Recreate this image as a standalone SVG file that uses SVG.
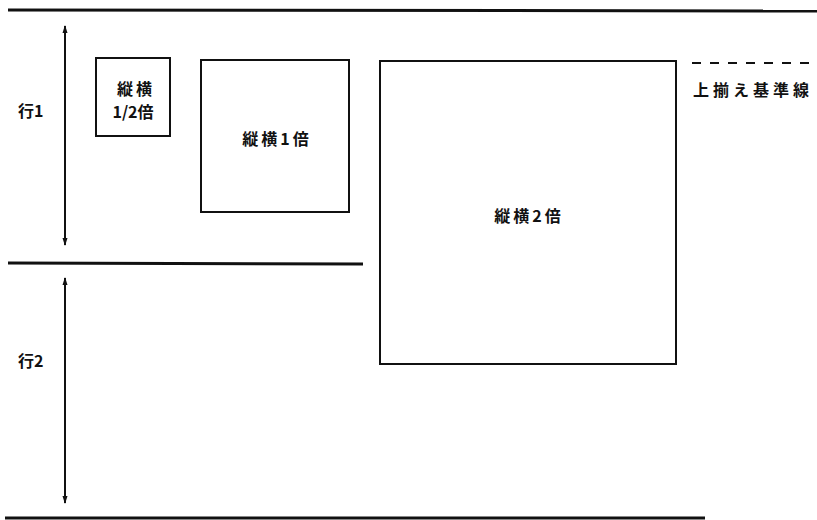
<svg xmlns="http://www.w3.org/2000/svg" width="817" height="520" viewBox="0 0 817 520">
<style>
.t{font-family:"Noto Sans CJK JP","Liberation Sans",sans-serif;font-weight:bold;font-size:16px;fill:#111}
.w{letter-spacing:3px}
.box{fill:none;stroke:#111;stroke-width:2}
.rule{stroke:#111;stroke-width:3}
.arr{stroke:#111;stroke-width:2;fill:none}
</style>
<defs>
<marker id="ah" markerWidth="8" markerHeight="10" refX="7" refY="4" orient="auto-start-reverse" markerUnits="userSpaceOnUse" viewBox="0 0 8 8">
<path d="M0,1.5 L8,4 L0,6.5 z" fill="#111"/>
</marker>
</defs>
<rect width="817" height="520" fill="#fff"/>
<g id="rules">
<line class="rule" x1="8" y1="10" x2="817" y2="11"/>
<line class="rule" x1="8" y1="263" x2="363" y2="264"/>
<line class="rule" x1="5" y1="518" x2="705" y2="518"/>
<line x1="692" y1="63" x2="812" y2="63" stroke="#111" stroke-width="2" stroke-dasharray="9,9"/>
</g>
<g id="connectors">
<line class="arr" x1="65" y1="26" x2="65" y2="245" marker-start="url(#ah)" marker-end="url(#ah)"/>
<line class="arr" x1="65" y1="278" x2="65" y2="503" marker-start="url(#ah)" marker-end="url(#ah)"/>
</g>
<g id="row1-label"><text class="t" x="18" y="117">行1</text></g>
<g id="row2-label"><text class="t" x="18" y="367">行2</text></g>
<g id="box-half">
<rect class="box" x="96" y="58" width="74" height="78"/>
<text class="t w" x="136" y="95" text-anchor="middle">縦横</text>
<text class="t" x="133" y="118" text-anchor="middle">1/2倍</text>
</g>
<g id="box-1x">
<rect class="box" x="201" y="60" width="148" height="152"/>
<text class="t w" x="277" y="145" text-anchor="middle">縦横1倍</text>
</g>
<g id="box-2x">
<rect class="box" x="380" y="61" width="296" height="303"/>
<text class="t w" x="529" y="222" text-anchor="middle">縦横2倍</text>
</g>
<g id="baseline-label">
<text class="t" x="693" y="96" letter-spacing="4">上揃え基準線</text>
</g>
</svg>
